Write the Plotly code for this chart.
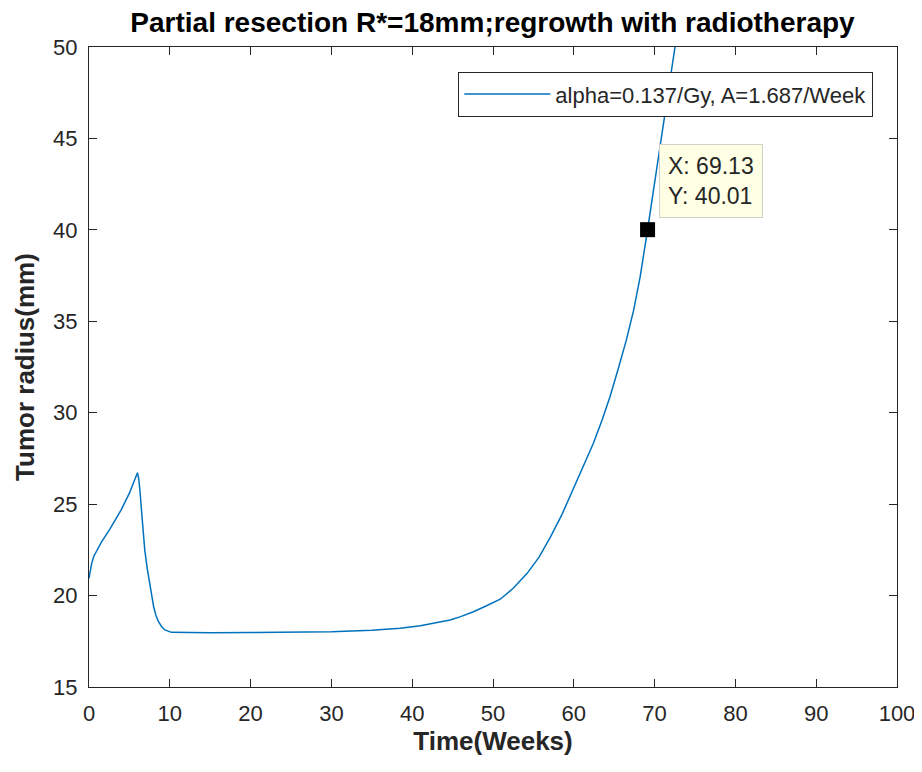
import plotly.graph_objects as go

# Data
time_weeks = [0, 0.15, 0.33, 0.6, 0.9, 1.5, 2.6, 4.0, 5.0, 6.0, 6.15, 6.3, 6.6, 6.9, 7.2, 7.5, 8.0, 8.3, 8.6,
              9.0, 9.4, 10.2, 12, 15, 20, 25, 30, 35, 38.5, 41, 43, 44.7, 46, 47.5, 49, 50.9, 52.5, 54.2,
              55.7, 57.1, 58.5, 59.9, 61.2, 62.4, 63.5, 64.5, 65.5, 66.5, 67.4, 68.2, 69.13, 70, 71, 72, 73]
radius_mm = [20.94, 21.4, 21.76, 22.15, 22.4, 22.9, 23.65, 24.7, 25.6, 26.72, 26.4, 25.77, 24.1, 22.5, 21.5,
             20.67, 19.39, 18.9, 18.57, 18.3, 18.12, 17.99, 17.97, 17.97, 17.98, 17.99, 18.02, 18.1, 18.21,
             18.35, 18.5, 18.66, 18.85, 19.1, 19.4, 19.8, 20.4, 21.2, 22.1, 23.2, 24.4, 25.8, 27.0, 28.3, 29.6,
             30.9, 32.4, 33.97, 35.6, 37.4, 40.01, 42.5, 45.3, 48.3, 51.4]
series_name = "alpha=0.137/Gy, A=1.687/Week"
tip_x = [69.13]
tip_y = [40.01]
x_ticks = [0, 10, 20, 30, 40, 50, 60, 70, 80, 90, 100]
y_ticks = [15, 20, 25, 30, 35, 40, 45, 50]

FONT = "Liberation Sans, Arial, sans-serif"
INK = "#262626"

fig = go.Figure()
fig.add_trace(go.Scatter(x=time_weeks, y=radius_mm, mode="lines", name=series_name,
                         line=dict(color="#0072BD", width=1.5)))
fig.add_trace(go.Scatter(x=tip_x, y=tip_y, mode="markers", showlegend=False,
                         marker=dict(symbol="square", size=15, color="black")))

fig.add_annotation(x=tip_x[0], y=tip_y[0], xref="x", yref="y",
                   text=f"X: {tip_x[0]:.2f}<br>Y: {tip_y[0]:.2f}",
                   showarrow=False, xanchor="left", yanchor="bottom", xshift=11, yshift=12,
                   align="left", bgcolor="#FFFFE6", bordercolor="#D0D0C8", borderwidth=1, borderpad=8,
                   font=dict(family=FONT, size=23, color=INK))

axis_common = dict(showline=True, linecolor=INK, linewidth=1.3, mirror="ticks", ticks="inside",
                   ticklen=8, tickcolor=INK, tickwidth=1.3, showgrid=False, zeroline=False,
                   ticklabeloverflow="allow", automargin=False,
                   tickfont=dict(family=FONT, size=22, color=INK))

fig.update_xaxes(range=[0, 100], tickvals=x_ticks, **axis_common, ticklabelstandoff=6,
                 title=dict(text="<b>Time(Weeks)</b>", font=dict(family=FONT, size=26, color=INK), standoff=6))
fig.update_yaxes(range=[15, 50], tickvals=y_ticks, **axis_common, ticklabelstandoff=6,
                 title=dict(text="<b>Tumor radius(mm)</b>", font=dict(family=FONT, size=26, color=INK), standoff=10))

fig.update_layout(
    width=908, height=756,
    margin=dict(l=81, r=19, t=39, b=77),
    paper_bgcolor="white", plot_bgcolor="white",
    title=dict(text="<b>Partial resection R*=18mm;regrowth with radiotherapy</b>", x=(492.5 - 8) / 908,
               xanchor="center", xref="container", y=0.981, yanchor="middle",
               font=dict(family=FONT, size=28, color="black")),
    legend=dict(x=(865 - 81) / 808, y=0.961, xanchor="right", yanchor="top", bgcolor="white",
                bordercolor=INK, borderwidth=1.3, itemwidth=86,
                font=dict(family=FONT, size=22, color=INK)),
    showlegend=True,
)

fig.write_html("out.html")
